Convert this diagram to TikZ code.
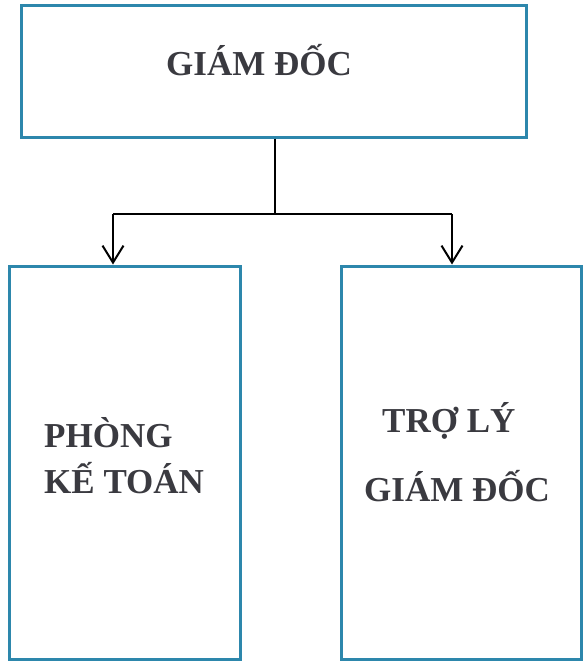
\documentclass[tikz,border=0pt]{standalone}
\usepackage{fontspec}
\setmainfont{Liberation Serif}
\usetikzlibrary{arrows.meta}
\definecolor{boxblue}{RGB}{45,135,172}
\definecolor{inkgray}{RGB}{58,58,64}
\begin{document}
\begin{tikzpicture}[x=1pt, y=-1pt,
	orgbox/.style={draw=boxblue, line width=3pt, inner sep=0pt},
	orgtext/.style={text=inkgray, font=\fontsize{35}{40}\selectfont\bfseries, inner sep=0pt},
	link/.style={line width=2.2pt},
	linkarrow/.style={line width=2pt, -{Straight Barb[length=17pt, width=21pt, line width=2pt]}}]
	\useasboundingbox (0,0) rectangle (582,661);
	
	% boxes
	\node[orgbox, minimum width=505pt, minimum height=131pt] (gd) at (273.5,71.5) {};
	\node[orgbox, minimum width=231pt, minimum height=393pt] (kt) at (124.5,462.5) {};
	\node[orgbox, minimum width=240pt, minimum height=393pt] (tl) at (461,462.5) {};
	
	% texts
	\node[orgtext, anchor=base] (gdtext) at (259,75) {GIÁM ĐỐC};
	\node[orgtext, anchor=base west] (kttext1) at (44,447) {PHÒNG};
	\node[orgtext, anchor=base west] (kttext2) at (44,493) {KẾ TOÁN};
	\node[orgtext, anchor=base west] (tltext1) at (382,432) {TRỢ LÝ};
	\node[orgtext, anchor=base west] (tltext2) at (364,501) {GIÁM ĐỐC};
	
	% connectors
	\coordinate (jn) at (275,214);
	\coordinate (jl) at (113,214);
	\coordinate (jr) at (452,214);
	\draw[link] (gd.south -| jn) -- (jn);
	\draw[link] (jl) -- (jr);
	\foreach \j/\b in {jl/kt, jr/tl}
	{
		\draw[linkarrow] (\j) -- (\j |- \b.north);
	}
\end{tikzpicture}
\end{document}
